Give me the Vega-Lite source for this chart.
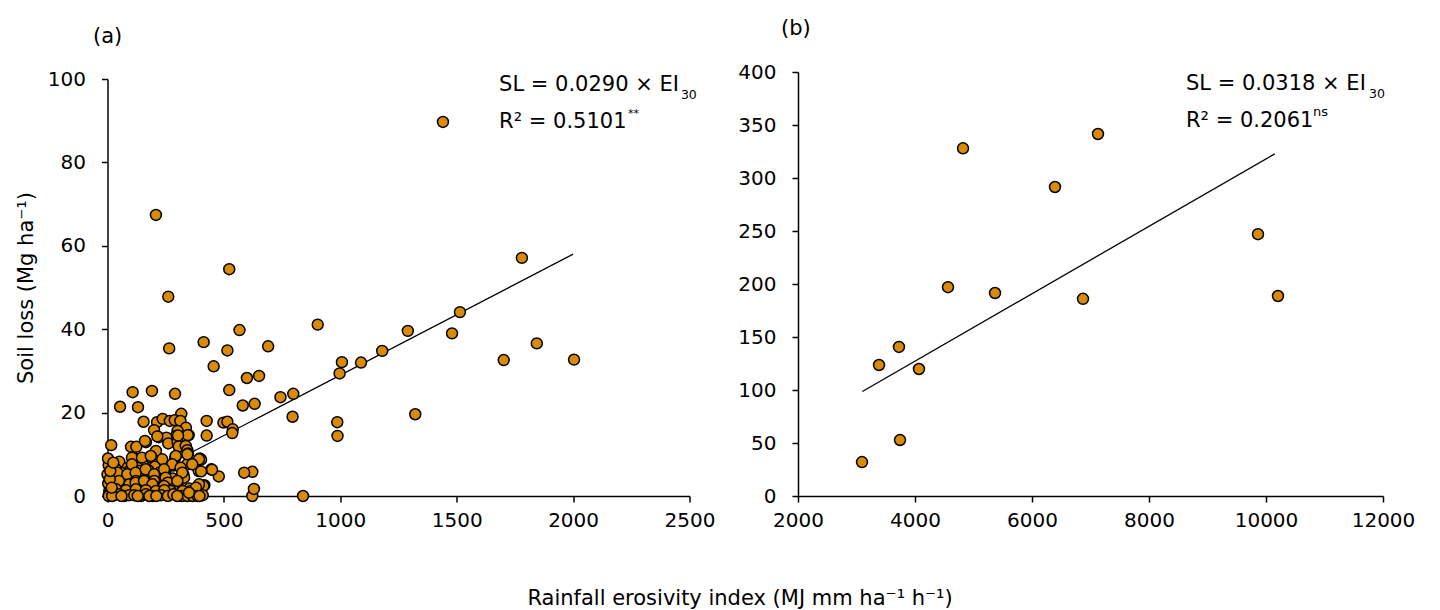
{
  "$schema": "https://vega.github.io/schema/vega-lite/v6.json",
  "background": "white",
  "padding": {"left": 14.5, "top": 18, "right": 5, "bottom": 5},
  "bounds": "flush",
  "spacing": 108.5,
  "config": {
    "font": "DejaVu Sans",
    "view": {"stroke": null},
    "axis": {
      "grid": false,
      "domainColor": "#000",
      "domainWidth": 1.5,
      "tickColor": "#000",
      "tickWidth": 1.5,
      "tickSize": 6,
      "labelColor": "#000",
      "labelFontSize": 20,
      "labelFlush": false,
      "titleFontSize": 21,
      "titleFontWeight": "normal",
      "titleColor": "#000",
      "format": "d"
    },
    "axisX": {"labelPadding": 8},
    "axisY": {"labelPadding": 16}
  },
  "title": {
    "text": "Rainfall erosivity index (MJ mm ha⁻¹ h⁻¹)",
    "orient": "bottom",
    "anchor": "middle",
    "dx": 25,
    "fontSize": 21,
    "fontWeight": "normal",
    "color": "#000",
    "offset": 58
  },
  "datasets": {
    "a": [
      {"ei30": 1441, "sl": 89.7}, {"ei30": 208, "sl": 67.4}, {"ei30": 1780, "sl": 57.1}, {"ei30": 523, "sl": 54.4},
      {"ei30": 261, "sl": 47.8}, {"ei30": 903, "sl": 41.1}, {"ei30": 567, "sl": 39.8}, {"ei30": 1514, "sl": 44.1},
      {"ei30": 1480, "sl": 39.0}, {"ei30": 1290, "sl": 39.6}, {"ei30": 1844, "sl": 36.6}, {"ei30": 413, "sl": 36.9},
      {"ei30": 265, "sl": 35.4}, {"ei30": 690, "sl": 35.9}, {"ei30": 515, "sl": 34.9}, {"ei30": 1180, "sl": 34.8},
      {"ei30": 1089, "sl": 32.0}, {"ei30": 1007, "sl": 32.1}, {"ei30": 997, "sl": 29.4}, {"ei30": 1702, "sl": 32.6},
      {"ei30": 2004, "sl": 32.7}, {"ei30": 456, "sl": 31.1}, {"ei30": 651, "sl": 28.8}, {"ei30": 599, "sl": 28.3},
      {"ei30": 523, "sl": 25.4}, {"ei30": 191, "sl": 25.2}, {"ei30": 108, "sl": 24.9}, {"ei30": 290, "sl": 24.5},
      {"ei30": 798, "sl": 24.5}, {"ei30": 743, "sl": 23.7}, {"ei30": 54, "sl": 21.4}, {"ei30": 131, "sl": 21.3},
      {"ei30": 632, "sl": 22.1}, {"ei30": 581, "sl": 21.7}, {"ei30": 1322, "sl": 19.6}, {"ei30": 795, "sl": 19.0},
      {"ei30": 987, "sl": 17.7}, {"ei30": 988, "sl": 14.4}, {"ei30": 840, "sl": 0}, {"ei30": 622, "sl": 0},
      {"ei30": 629, "sl": 1.7}, {"ei30": 622, "sl": 5.8}, {"ei30": 587, "sl": 5.6},
      {"ei30": 317, "sl": 19.7}, {"ei30": 155, "sl": 17.8}, {"ei30": 213, "sl": 17.7}, {"ei30": 237, "sl": 18.5},
      {"ei30": 268, "sl": 18.0}, {"ei30": 289, "sl": 18.2}, {"ei30": 313, "sl": 18.0}, {"ei30": 426, "sl": 18.0},
      {"ei30": 498, "sl": 17.6}, {"ei30": 515, "sl": 17.8}, {"ei30": 337, "sl": 16.4}, {"ei30": 200, "sl": 15.8},
      {"ei30": 301, "sl": 15.6}, {"ei30": 349, "sl": 14.6}, {"ei30": 426, "sl": 14.5}, {"ei30": 538, "sl": 16.0},
      {"ei30": 536, "sl": 15.1}, {"ei30": 294, "sl": 14.4}, {"ei30": 220, "sl": 14.1}, {"ei30": 253, "sl": 14.0},
      {"ei30": 261, "sl": 12.6}, {"ei30": 165, "sl": 12.9}, {"ei30": 16, "sl": 12.2}, {"ei30": 101, "sl": 11.8},
      {"ei30": 124, "sl": 11.8}, {"ei30": 208, "sl": 10.8}, {"ei30": 301, "sl": 12.9}, {"ei30": 306, "sl": 11.9},
      {"ei30": 345, "sl": 14.6}, {"ei30": 336, "sl": 12.0}, {"ei30": 343, "sl": 11.0}, {"ei30": 346, "sl": 10.2},
      {"ei30": 161, "sl": 13.2}, {"ei30": 214, "sl": 14.3}, {"ei30": 303, "sl": 14.5},
      {"ei30": 291, "sl": 9.2}, {"ei30": 115, "sl": 9.0}, {"ei30": 51, "sl": 8.2}, {"ei30": 397, "sl": 9.0},
      {"ei30": 183, "sl": 9.2}, {"ei30": 151, "sl": 7.6}, {"ei30": 235, "sl": 8.8}, {"ei30": 5, "sl": 7.4},
      {"ei30": 87, "sl": 6.8}, {"ei30": 128, "sl": 6.8}, {"ei30": 203, "sl": 7.0}, {"ei30": 283, "sl": 7.3},
      {"ei30": 319, "sl": 6.6}, {"ei30": 342, "sl": 7.6}, {"ei30": 366, "sl": 7.6}, {"ei30": 392, "sl": 6.0},
      {"ei30": 446, "sl": 6.4}, {"ei30": 478, "sl": 4.7}, {"ei30": 251, "sl": 6.4}, {"ei30": 35, "sl": 6.5},
      {"ei30": 26, "sl": 4.4}, {"ei30": 48, "sl": 4.4}, {"ei30": 84, "sl": 4.8}, {"ei30": 108, "sl": 5.2},
      {"ei30": 165, "sl": 4.8}, {"ei30": 175, "sl": 6.2}, {"ei30": 223, "sl": 5.6}, {"ei30": 280, "sl": 4.2},
      {"ei30": 326, "sl": 5.2}, {"ei30": 329, "sl": 4.4}, {"ei30": 244, "sl": 6.0}, {"ei30": 402, "sl": 8.7},
      {"ei30": 94, "sl": 6.0}, {"ei30": 137, "sl": 6.0}, {"ei30": 58, "sl": 5.6}, {"ei30": 15, "sl": 5.6},
      {"ei30": 105, "sl": 9.2}, {"ei30": 148, "sl": 9.2}, {"ei30": 186, "sl": 9.6}, {"ei30": 293, "sl": 9.6},
      {"ei30": 343, "sl": 10.0}, {"ei30": 393, "sl": 8.8}, {"ei30": 105, "sl": 7.6}, {"ei30": 278, "sl": 7.6},
      {"ei30": 314, "sl": 6.8}, {"ei30": 321, "sl": 5.6}, {"ei30": 364, "sl": 7.6}, {"ei30": 0, "sl": 5.2},
      {"ei30": 42, "sl": 5.6}, {"ei30": 85, "sl": 5.2}, {"ei30": 121, "sl": 5.6}, {"ei30": 164, "sl": 6.4},
      {"ei30": 200, "sl": 5.2}, {"ei30": 243, "sl": 6.4}, {"ei30": 250, "sl": 4.4}, {"ei30": 416, "sl": 2.6},
      {"ei30": 449, "sl": 6.3}, {"ei30": 402, "sl": 5.9},
      {"ei30": 412, "sl": 2.4}, {"ei30": 8, "sl": 2.8}, {"ei30": 37, "sl": 3.2}, {"ei30": 65, "sl": 2.4},
      {"ei30": 94, "sl": 2.8}, {"ei30": 122, "sl": 3.6}, {"ei30": 144, "sl": 2.4}, {"ei30": 179, "sl": 2.8},
      {"ei30": 201, "sl": 3.6}, {"ei30": 237, "sl": 2.4}, {"ei30": 259, "sl": 3.2}, {"ei30": 301, "sl": 2.6},
      {"ei30": 351, "sl": 1.8}, {"ei30": 280, "sl": 1.6}, {"ei30": 300, "sl": 3.6}, {"ei30": 393, "sl": 2.8},
      {"ei30": 49, "sl": 3.6}, {"ei30": 121, "sl": 3.2}, {"ei30": 157, "sl": 3.6}, {"ei30": 193, "sl": 2.8},
      {"ei30": 243, "sl": 2.4}, {"ei30": 271, "sl": 1.2}, {"ei30": 357, "sl": 1.2}, {"ei30": 8, "sl": 1.2},
      {"ei30": 37, "sl": 1.6}, {"ei30": 79, "sl": 1.4}, {"ei30": 122, "sl": 1.6}, {"ei30": 165, "sl": 1.4},
      {"ei30": 208, "sl": 1.2}, {"ei30": 244, "sl": 1.4}, {"ei30": 323, "sl": 1.2}, {"ei30": 380, "sl": 2.0},
      {"ei30": 6, "sl": 0.4}, {"ei30": 5, "sl": 0}, {"ei30": 29, "sl": 0.2}, {"ei30": 51, "sl": 0.4},
      {"ei30": 72, "sl": 0}, {"ei30": 94, "sl": 0.2}, {"ei30": 115, "sl": 0.2}, {"ei30": 144, "sl": 0},
      {"ei30": 165, "sl": 0.4}, {"ei30": 194, "sl": 0}, {"ei30": 230, "sl": 0.2}, {"ei30": 259, "sl": 0},
      {"ei30": 283, "sl": 0.4}, {"ei30": 320, "sl": 0}, {"ei30": 344, "sl": 0}, {"ei30": 366, "sl": 0},
      {"ei30": 387, "sl": 0}, {"ei30": 409, "sl": 0.2}, {"ei30": 20, "sl": 0}, {"ei30": 60, "sl": 0},
      {"ei30": 130, "sl": 0}, {"ei30": 180, "sl": 0}, {"ei30": 210, "sl": 0}, {"ei30": 300, "sl": 0},
      {"ei30": 350, "sl": 0.8}, {"ei30": 395, "sl": 0}, {"ei30": 3, "sl": 3.0}, {"ei30": 10, "sl": 4.0},
      {"ei30": 2, "sl": 9.0}, {"ei30": 18, "sl": 2.0}, {"ei30": 12, "sl": 6.0}, {"ei30": 25, "sl": 8.0}
    ],
    "b": [
      {"ei30": 3094, "sl": 32}, {"ei30": 3385, "sl": 123.6}, {"ei30": 3726, "sl": 140.6}, {"ei30": 3744, "sl": 52.8},
      {"ei30": 4068, "sl": 119.8}, {"ei30": 4564, "sl": 197}, {"ei30": 4821, "sl": 328}, {"ei30": 5368, "sl": 191.5},
      {"ei30": 6393, "sl": 291.5}, {"ei30": 6872, "sl": 186}, {"ei30": 7128, "sl": 341.5}, {"ei30": 9863, "sl": 247},
      {"ei30": 10205, "sl": 188.7}
    ]
  },
  "hconcat": [
    {
      "width": 582,
      "height": 424,
      "title": {"text": "(a)", "anchor": "start", "frame": "group", "offset": 22, "dx": -14.5, "fontSize": 21, "fontWeight": "normal", "color": "#000"},
      "layer": [
        {
          "data": {"values": [{}]},
          "mark": {"type": "rule", "color": "#000", "strokeWidth": 1.3},
          "encoding": {
            "x": {"datum": 0, "type": "quantitative", "scale": {"domain": [0, 2500], "nice": false}, "axis": {"values": [0, 500, 1000, 1500, 2000, 2500], "title": null}},
            "y": {"datum": 0, "type": "quantitative", "scale": {"domain": [0, 100], "nice": false, "range": [424, 7]}, "axis": {"values": [0, 20, 40, 60, 80, 100], "title": "Soil loss (Mg ha⁻¹)", "titlePadding": 11}},
            "x2": {"datum": 2000},
            "y2": {"datum": 58}
          }
        },
        {
          "data": {"name": "a"},
          "mark": {"type": "circle", "size": 120, "filled": true, "fill": "#D98A06", "stroke": "#000", "strokeWidth": 1.5, "opacity": 1},
          "encoding": {
            "x": {"field": "ei30", "type": "quantitative"},
            "y": {"field": "sl", "type": "quantitative"}
          }
        },
        {
          "data": {"values": [{}]},
          "mark": {"type": "text", "align": "left", "baseline": "middle", "fontSize": 21, "color": "#000", "text": "SL = 0.0290 × EI"},
          "encoding": {"x": {"datum": 1682}, "y": {"datum": 98.6}}
        },
        {
          "data": {"values": [{}]},
          "mark": {"type": "text", "align": "left", "baseline": "middle", "fontSize": 12.5, "color": "#000", "text": "30"},
          "encoding": {"x": {"datum": 2463}, "y": {"datum": 96.2}}
        },
        {
          "data": {"values": [{}]},
          "mark": {"type": "text", "align": "left", "baseline": "middle", "fontSize": 21, "color": "#000", "text": "R² = 0.5101"},
          "encoding": {"x": {"datum": 1682}, "y": {"datum": 89.7}}
        },
        {
          "data": {"values": [{}]},
          "mark": {"type": "text", "align": "left", "baseline": "middle", "fontSize": 11, "color": "#000", "text": "**"},
          "encoding": {"x": {"datum": 2236}, "y": {"datum": 91.6}}
        }
      ]
    },
    {
      "width": 585,
      "height": 424,
      "title": {"text": "(b)", "anchor": "start", "frame": "group", "offset": 23, "dx": -17, "fontSize": 21, "fontWeight": "normal", "color": "#000"},
      "layer": [
        {
          "data": {"values": [{}]},
          "mark": {"type": "rule", "color": "#000", "strokeWidth": 1.3},
          "encoding": {
            "x": {"datum": 3100, "type": "quantitative", "scale": {"domain": [2000, 12000], "nice": false}, "axis": {"values": [2000, 4000, 6000, 8000, 10000, 12000], "title": null}},
            "y": {"datum": 98.6, "type": "quantitative", "scale": {"domain": [0, 400], "nice": false}, "axis": {"values": [0, 50, 100, 150, 200, 250, 300, 350, 400], "title": null}},
            "x2": {"datum": 10150},
            "y2": {"datum": 322.8}
          }
        },
        {
          "data": {"name": "b"},
          "mark": {"type": "circle", "size": 120, "filled": true, "fill": "#D98A06", "stroke": "#000", "strokeWidth": 1.5, "opacity": 1},
          "encoding": {
            "x": {"field": "ei30", "type": "quantitative"},
            "y": {"field": "sl", "type": "quantitative"}
          }
        },
        {
          "data": {"values": [{}]},
          "mark": {"type": "text", "align": "left", "baseline": "middle", "fontSize": 21, "color": "#000", "text": "SL = 0.0318 × EI"},
          "encoding": {"x": {"datum": 8632}, "y": {"datum": 388.5}}
        },
        {
          "data": {"values": [{}]},
          "mark": {"type": "text", "align": "left", "baseline": "middle", "fontSize": 12.5, "color": "#000", "text": "30"},
          "encoding": {"x": {"datum": 11760}, "y": {"datum": 379.3}}
        },
        {
          "data": {"values": [{}]},
          "mark": {"type": "text", "align": "left", "baseline": "middle", "fontSize": 21, "color": "#000", "text": "R² = 0.2061"},
          "encoding": {"x": {"datum": 8632}, "y": {"datum": 353.8}}
        },
        {
          "data": {"values": [{}]},
          "mark": {"type": "text", "align": "left", "baseline": "middle", "fontSize": 13, "color": "#000", "text": "ns"},
          "encoding": {"x": {"datum": 10803}, "y": {"datum": 362.3}}
        }
      ]
    }
  ]
}
